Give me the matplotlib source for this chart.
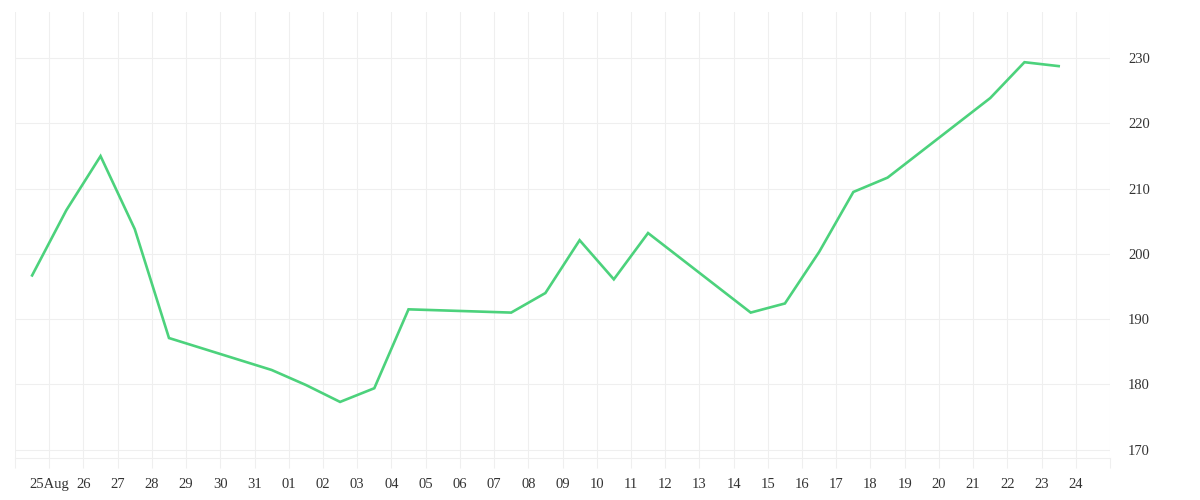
import matplotlib
matplotlib.use("Agg")
import matplotlib.pyplot as plt
import matplotlib.dates as mdates
import pandas as pd
import numpy as np

# ---- data ----
dates = [
    "2020-08-24", "2020-08-25", "2020-08-26", "2020-08-27", "2020-08-28",
    "2020-08-31", "2020-09-01", "2020-09-02", "2020-09-03", "2020-09-04",
    "2020-09-07", "2020-09-08", "2020-09-09", "2020-09-10", "2020-09-11",
    "2020-09-14", "2020-09-15", "2020-09-16", "2020-09-17", "2020-09-18",
    "2020-09-21", "2020-09-22", "2020-09-23",
]
values = [
    196.7, 206.7, 215.0, 203.8, 187.1,
    182.2, 179.9, 177.3, 179.4, 191.5,
    191.0, 194.0, 202.1, 196.1, 203.2,
    191.0, 192.4, 200.3, 209.5, 211.7,
    223.9, 229.4, 228.8,
]
tick_days = pd.date_range("2020-08-24", "2020-09-25", freq="D")
tick_labels = [""] + ["25Aug"] + [f"{d.day:02d}" for d in tick_days[2:-1]] + [""]
y_ticks = [170, 180, 190, 200, 210, 220, 230]

# ---- style ----
LINE = "#4cd27c"
GRID = "#efefef"
TEXT = "#333333"
plt.rcParams["font.family"] = ["Liberation Serif", "DejaVu Serif"]

fig = plt.figure(figsize=(12, 5), dpi=100)
ax = fig.add_axes([15 / 1200, 42 / 500, 1095 / 1200, 446 / 500])

x = pd.to_datetime(dates) + pd.Timedelta(hours=12)
ax.plot(x, values, color=LINE, linewidth=1.9, solid_joinstyle="miter", zorder=3)

ax.set_xlim(tick_days[0], tick_days[-1])
ax.set_ylim(168.7, 237.1)

ax.set_xticks(tick_days)
ax.set_xticklabels(tick_labels)
ax.set_yticks(y_ticks)
ax.set_yticklabels([str(v) for v in y_ticks])

ax.yaxis.tick_right()
ax.tick_params(axis="y", length=0, pad=13, labelsize=10.5, labelcolor=TEXT)
ax.tick_params(axis="x", length=7.2, width=0.8, color=GRID, pad=7,
               labelsize=10.5, labelcolor=TEXT)

ax.grid(True, color=GRID, linewidth=0.8, zorder=0)
for s in ["top", "left", "right"]:
    ax.spines[s].set_visible(False)
ax.spines["bottom"].set_color(GRID)
ax.spines["bottom"].set_linewidth(0.8)
ax.set_axisbelow(True)

fig.savefig("out.png", dpi=100, facecolor="white")
